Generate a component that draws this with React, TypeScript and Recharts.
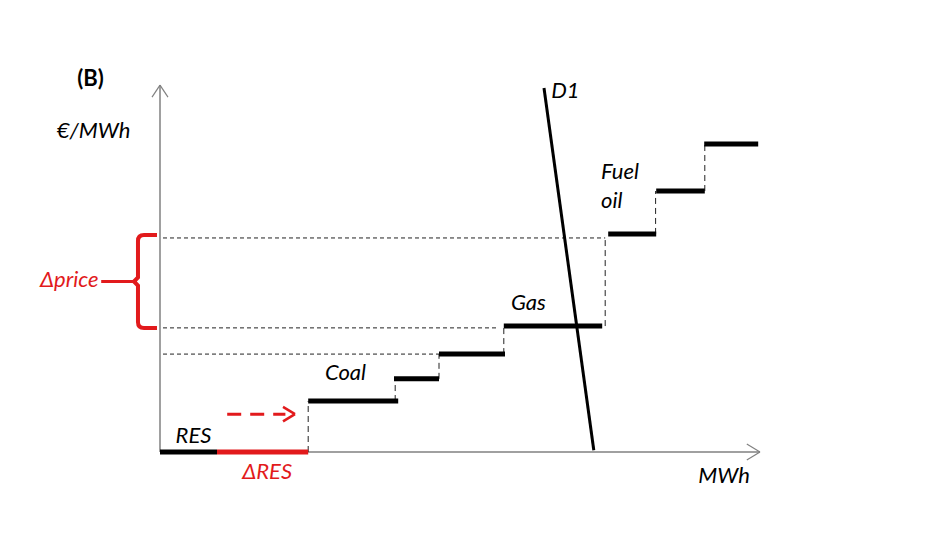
import { ComposedChart, Line, ReferenceDot, ReferenceLine, XAxis, YAxis } from "recharts";

const RED = "#e21a1c";
const INK = "#000000";
const AXIS = "#808080";
const GUIDE = "#222222";
const FONT = "Lato, 'Open Sans', sans-serif";

// merit-order blocks: [from MWh, to MWh, €/MWh]
const resBlock = [0, 9.5, 0];
const deltaResBlock = [9.5, 24.7, 0];
const coalBlocks = [
  [24.7, 39.7, 14.0],
  [39.0, 46.5, 20.1],
  [46.5, 57.5, 26.9],
];
const gasBlocks = [[57.3, 73.7, 34.6]];
const oilBlocks = [
  [74.7, 82.7, 59.9],
  [82.7, 90.8, 71.7],
  [90.7, 99.7, 84.6],
];

// dashed risers between blocks: [MWh, from €/MWh, to €/MWh]
const risers = [
  [24.7, 0, 14.0],
  [39.2, 14.0, 20.1],
  [46.5, 20.1, 26.9],
  [57.3, 26.9, 34.6],
  [74.2, 34.6, 58.8],
  [82.6, 59.9, 71.7],
  [90.8, 71.7, 84.6],
];

// dotted price guides to the y axis: [€/MWh, up to MWh]
const priceGuides = [
  [58.8, 74.2],
  [34.1, 56.5],
  [26.9, 46.5],
];

const demandD1 = [
  { mwh: 64.0, price: 100 },
  { mwh: 72.3, price: 0.5 },
];

// RES shift arrow: [from MWh, to MWh, at €/MWh]
const resShift = [11.2, 22.5, 10.4];
// Δprice band: [low, high] and where the brace sits
const priceBand = [34.1, 59.6];
const braceAt = -3.67;

const labels = [
  { text: "(B)", mwh: -13.8, price: 100.5, color: INK, bold: true },
  { text: "€/MWh", mwh: -17.2, price: 86.3, color: INK },
  { text: "RES", mwh: 2.6, price: 2.5, color: INK },
  { text: "ΔRES", mwh: 13.7, price: -7.4, color: RED },
  { text: "Coal", mwh: 27.5, price: 19.8, color: INK },
  { text: "Gas", mwh: 58.5, price: 39.0, color: INK },
  { text: "Fuel", mwh: 73.5, price: 75.0, color: INK },
  { text: "oil", mwh: 73.5, price: 67.0, color: INK },
  { text: "D1", mwh: 65.2, price: 97.3, color: INK },
  { text: "MWh", mwh: 89.7, price: -8.5, color: INK },
  { text: "Δprice", mwh: -20.0, price: 45.3, color: RED },
];

const blockData = (b: number[]) => [
  { mwh: b[0], price: b[2] },
  { mwh: b[1], price: b[2] },
];

const Brace = (p: any) => {
  const x = p.x1;
  const top = Math.min(p.y1, p.y2);
  const bot = Math.max(p.y1, p.y2);
  const mid = (top + bot) / 2;
  const d = `M ${x + 19} ${top} L ${x + 6} ${top} Q ${x} ${top} ${x} ${top + 6} L ${x} ${mid - 4} L ${x - 4} ${mid} L ${x} ${mid + 4} L ${x} ${bot - 6} Q ${x} ${bot} ${x + 6} ${bot} L ${x + 19} ${bot}`;
  return <path d={d} fill="none" stroke={RED} strokeWidth={4} />;
};

export default function App() {
  const seg = (a: [number, number], b: [number, number]) => [
    { x: a[0], y: a[1] },
    { x: b[0], y: b[1] },
  ];
  const mid = (priceBand[0] + priceBand[1]) / 2;
  return (
    <div style={{ position: "absolute", left: 0, top: 0, width: 925, height: 543, background: "#fff" }}>
      <ComposedChart
        width={925}
        height={543}
        data={demandD1}
        margin={{ top: 88, right: 165, bottom: 91, left: 160 }}
      >
        <XAxis type="number" dataKey="mwh" domain={[0, 100]} hide />
        <YAxis type="number" domain={[0, 100]} hide />

        {/* axes with arrow heads */}
        <ReferenceLine segment={seg([0, 0], [0, 100.8])} stroke={AXIS} strokeWidth={1.5} ifOverflow="visible" />
        <ReferenceLine segment={seg([0, 100.8], [-1.33, 97.5])} stroke={AXIS} strokeWidth={1.2} ifOverflow="visible" />
        <ReferenceLine segment={seg([0, 100.8], [1.33, 97.5])} stroke={AXIS} strokeWidth={1.2} ifOverflow="visible" />
        <ReferenceLine segment={seg([0, 0], [100, 0])} stroke={AXIS} strokeWidth={1.5} ifOverflow="visible" />
        <ReferenceLine segment={seg([100, 0], [97.8, 2.2])} stroke={AXIS} strokeWidth={1.2} ifOverflow="visible" />
        <ReferenceLine segment={seg([100, 0], [97.8, -2.2])} stroke={AXIS} strokeWidth={1.2} ifOverflow="visible" />

        {priceGuides.map(([p, to], i) => (
          <ReferenceLine
            key={`g${i}`}
            segment={seg([0.5, p], [to, p])}
            stroke={GUIDE}
            strokeWidth={1}
            strokeDasharray="4 3"
            ifOverflow="visible"
          />
        ))}
        {risers.map(([q, a, b], i) => (
          <ReferenceLine
            key={`r${i}`}
            segment={seg([q, a], [q, b])}
            stroke={GUIDE}
            strokeWidth={1}
            strokeDasharray="6 4"
            ifOverflow="visible"
          />
        ))}

        {[resBlock, ...coalBlocks, ...gasBlocks, ...oilBlocks].map((b, i) => (
          <Line
            key={`b${i}`}
            data={blockData(b)}
            dataKey="price"
            stroke={INK}
            strokeWidth={5}
            dot={false}
            activeDot={false}
            isAnimationActive={false}
          />
        ))}
        <Line
          data={blockData(deltaResBlock)}
          dataKey="price"
          stroke={RED}
          strokeWidth={5}
          dot={false}
          activeDot={false}
          isAnimationActive={false}
        />

        <Line
          dataKey="price"
          stroke={INK}
          strokeWidth={3}
          dot={false}
          activeDot={false}
          isAnimationActive={false}
        />

        {/* RES shift arrow */}
        <ReferenceLine
          segment={seg([resShift[0], resShift[2]], [resShift[1] - 1.6, resShift[2]])}
          stroke={RED}
          strokeWidth={3}
          strokeDasharray="14 9"
          ifOverflow="visible"
        />
        <ReferenceLine segment={seg([resShift[1] - 2, resShift[2] + 2], [resShift[1], resShift[2]])} stroke={RED} strokeWidth={2.5} ifOverflow="visible" />
        <ReferenceLine segment={seg([resShift[1] - 2, resShift[2] - 2], [resShift[1], resShift[2]])} stroke={RED} strokeWidth={2.5} ifOverflow="visible" />

        {/* Δprice brace and leader */}
        <ReferenceLine
          segment={seg([braceAt, priceBand[1]], [braceAt, priceBand[0]])}
          shape={Brace}
          ifOverflow="visible"
        />
        <ReferenceLine segment={seg([-9.8, mid], [braceAt - 0.6, mid])} stroke={RED} strokeWidth={3} ifOverflow="visible" />

        {labels.map((l, i) => (
          <ReferenceDot
            key={`l${i}`}
            x={l.mwh}
            y={l.price}
            r={0}
            ifOverflow="visible"
            shape={(p: any) => (
              <text
                x={p.cx}
                y={p.cy}
                fill={l.color}
                fontFamily={FONT}
                fontSize={22}
                fontStyle={l.bold ? "normal" : "italic"}
                fontWeight={l.bold ? 700 : 400}
              >
                {l.text}
              </text>
            )}
          />
        ))}
      </ComposedChart>
    </div>
  );
}
